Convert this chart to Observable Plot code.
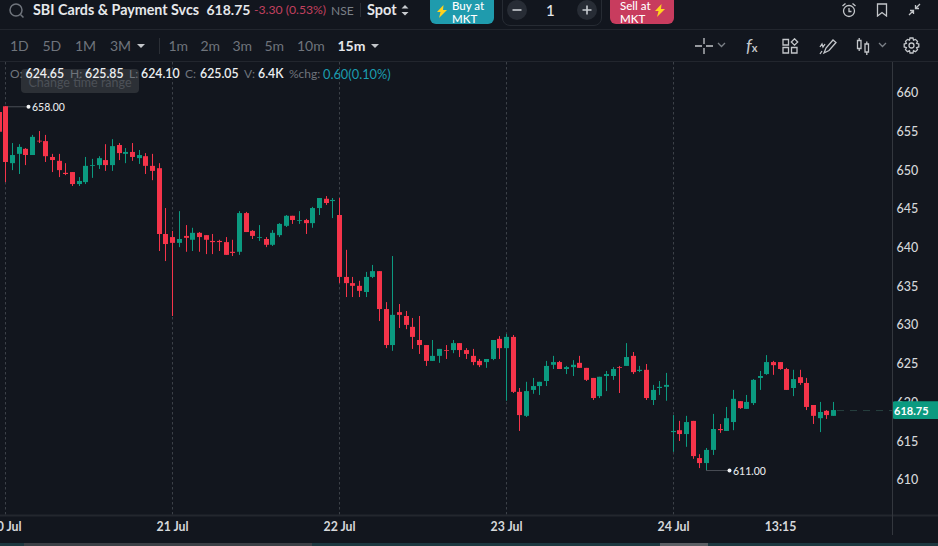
<!DOCTYPE html>
<html><head><meta charset="utf-8">
<script src="https://cdn.jsdelivr.net/npm/d3@7"></script>
<script src="https://cdn.jsdelivr.net/npm/@observablehq/plot@0.6"></script>
<style>
html,body{margin:0;padding:0;background:#12161e;width:938px;height:546px;overflow:hidden;font-family:Lato,sans-serif;color:#e6e8eb}
#page{position:relative;width:938px;height:546px;overflow:hidden}
#head{position:relative;height:62px}
.t{position:absolute;white-space:nowrap;line-height:1}
.hl{position:absolute;left:0;width:938px;height:1px;background:#22262e}
.d{color:#6f747c}
.o{top:67.500px;font-size:12px;z-index:3}
.v{top:67.500px;font-size:12.300px;z-index:3;font-weight:600;color:#eceef0}
.btn{position:absolute;top:-4px;width:64px;height:27.5px;border-radius:0 0 6px 6px;font-size:11.5px;line-height:12.5px;color:#fff;font-weight:500}
.ic{position:absolute;fill:none;stroke:#c3c6ca;stroke-width:1.3}
svg.chart{display:block;position:absolute;top:62px;left:0}
</style></head><body><div id="page">
<div id="head">
 <svg class="ic" style="left:8px;top:2px;stroke:#6f747c;stroke-width:1.5" width="18" height="18"><circle cx="8" cy="8" r="6"/><path d="M12.5 12.5l3 3"/></svg>
 <div class="t" style="left:33px;top:3px;font-size:14.3px;font-weight:700">SBI Cards &amp; Payment Svcs</div>
 <div class="t" style="left:206.500px;top:3px;font-size:14px;font-weight:700">618.75</div>
 <div class="t" style="left:254px;top:4px;font-size:12.200px;color:#c2405f">-3.30 (0.53%)</div>
 <div class="t" style="left:331px;top:4.500px;font-size:12px;color:#7b8087">NSE</div>
 <div style="position:absolute;left:360px;top:3px;width:1px;height:14px;background:#2b2f36"></div>
 <div class="t" style="left:367px;top:3px;font-size:14.5px;font-weight:700">Spot</div>
 <svg class="ic" style="left:400px;top:3px;fill:#c9ccd0;stroke:none" width="10" height="15"><path d="M1.500 5.500L5 2l3.500 3.500zM1.500 9L5 12.500 8.500 9z"/></svg>
 <div class="btn" style="left:430px;background:#1f9bad"><svg style="position:absolute;left:7px;top:9px" width="10" height="13"><path fill="#ffd21e" d="M6.500 0L0 7h3.500L2 13l8-8H6z"/></svg><span class="t" style="left:22px;top:3px;line-height:13px">Buy at<br>MKT</span></div>
 <div style="position:absolute;left:502px;top:-4px;width:98px;height:28px;border:1px solid #262b33;border-radius:0 0 8px 8px"></div>
 <svg style="position:absolute;left:507px;top:0" width="20" height="20"><circle cx="10" cy="10" r="10" fill="#272c35"/><path d="M5.500 10h9" stroke="#c8ccd1" stroke-width="1.600"/></svg>
 <svg style="position:absolute;left:577px;top:0" width="20" height="20"><circle cx="10" cy="10" r="10" fill="#272c35"/><path d="M5.500 10h9M10 5.500v9" stroke="#c8ccd1" stroke-width="1.600"/></svg>
 <div class="t" style="left:546px;top:3px;font-size:15px;font-weight:500">1</div>
 <div class="btn" style="left:610px;background:#c83c5e"><span class="t" style="left:10px;top:3px;line-height:13px">Sell at<br>MKT</span><svg style="position:absolute;left:45px;top:8px" width="11" height="13"><path fill="#ffd21e" d="M6.500 0L0 7h3.500L2 13l8-8H6z"/></svg></div>
 <svg class="ic" style="left:841px;top:2px" width="16" height="16"><circle cx="8" cy="9" r="5.500"/><path d="M8 6v3.500h2.500M1.500 4l3-2.500M14.500 4l-3-2.500"/></svg>
 <svg class="ic" style="left:876px;top:3px" width="12" height="14"><path d="M1.500 1h9v12L6 9.500 1.500 13z"/></svg>
 <svg class="ic" style="left:908px;top:3px" width="13" height="13"><path d="M1 12l4-4M2 7.500h3.500V11M12 1L8 5M11 5.500H7.500V2"/></svg>
 <div class="hl" style="top:29px"></div>
 <div class="t d" style="left:10px;top:39px;font-size:14px">1D</div>
 <div class="t d" style="left:42.500px;top:39px;font-size:14px">5D</div>
 <div class="t d" style="left:75px;top:39px;font-size:14px">1M</div>
 <div class="t d" style="left:110px;top:39px;font-size:14px">3M</div>
 <svg style="position:absolute;left:137px;top:44px" width="9" height="5"><path fill="#c3c6ca" d="M0 0h8L4 4z"/></svg>
 <div style="position:absolute;left:159px;top:38px;width:1px;height:16px;background:#2b2f36"></div>
 <div class="t d" style="left:168.500px;top:39px;font-size:14px">1m</div>
 <div class="t d" style="left:200.500px;top:39px;font-size:14px">2m</div>
 <div class="t d" style="left:232.500px;top:39px;font-size:14px">3m</div>
 <div class="t d" style="left:264.500px;top:39px;font-size:14px">5m</div>
 <div class="t d" style="left:297px;top:39px;font-size:14px">10m</div>
 <div class="t" style="left:337.500px;top:39px;font-size:14px;font-weight:700">15m</div>
 <svg style="position:absolute;left:371px;top:44px" width="9" height="5"><path fill="#c3c6ca" d="M0 0h8L4 4z"/></svg>
 <svg class="ic" style="left:695px;top:37px" width="18" height="18"><path d="M0 9h7M11 9h7M9 1v6M9 11v6"/></svg>
 <svg class="ic" style="left:717px;top:42px;stroke:#7b8087" width="9" height="6"><path d="M1 1l3.500 3.500L8 1"/></svg>
 <div class="t" style="left:746px;top:36px;font-size:18px;color:#c3c6ca;font-style:italic">f<span style="font-size:11px;font-style:normal;font-weight:700">x</span></div>
 <svg class="ic" style="left:782px;top:38px" width="17" height="16"><path d="M1 1.500h5.500V7H1zM1 9.500h5.500V15H1zM9.500 9.500H15V15H9.500zM12.500 .8l3.200 3.200-3.200 3.200L9.300 4z"/></svg>
 <svg class="ic" style="left:819px;top:38px" width="18" height="17"><path d="M5 15l2-5 7-8 3 2.500-7 8zM1 9l2-3 1 3 2-3M1 16l2-3"/></svg>
 <svg class="ic" style="left:856px;top:38px" width="14" height="17"><path d="M1.500 2.500h3.500v8H1.500zM3.200 0v2.500M3.200 10.500V13M9 6h3.500v8H9zM10.800 3.500V6M10.800 14v3"/></svg>
 <svg class="ic" style="left:878px;top:42px;stroke:#7b8087" width="9" height="6"><path d="M1 1l3.500 3.500L8 1"/></svg>
 <svg class="ic" style="left:903px;top:37px" width="17" height="17"><circle cx="8.500" cy="8.500" r="2.500"/><path d="M7 1h3l.5 2.200 2-.8 2 2-.9 2 2.200.6v3l-2.200.6.9 2-2 2-2-.9-.5 2.300H7l-.5-2.300-2 .9-2-2 .9-2L1.200 10V7l2.200-.6-.9-2 2-2 2 .8z"/></svg>
 <div class="hl" style="top:61px"></div>
</div>
<div id="chart"></div>
<div style="position:absolute;left:21px;top:69px;width:118px;height:24px;background:#2c3036;border-radius:4px;z-index:2;text-align:center;font-size:12.500px;line-height:27px;color:#4c5158">Change time range</div>
<div class="t o d" style="left:10px">O:</div><div class="t v" style="left:25.500px">624.65</div>
<div class="t o d" style="left:70px">H:</div><div class="t v" style="left:85px">625.85</div>
<div class="t o d" style="left:129px">L:</div><div class="t v" style="left:141px">624.10</div>
<div class="t o d" style="left:185px">C:</div><div class="t v" style="left:200px">625.05</div>
<div class="t o d" style="left:244px">V:</div><div class="t v" style="left:258px">6.4K</div>
<div class="t o d" style="left:289px">%chg:</div><div class="t o" style="left:323px;color:#1b9db0;font-size:12.800px">0.60(0.10%)</div>
<div style="position:absolute;left:891.500px;top:62px;width:1px;height:473px;background:#33373e"></div>
<div style="position:absolute;left:0;top:543px;width:938px;height:3px;background:#1d3840"></div>
<div style="position:absolute;left:24px;top:543px;width:288px;height:3px;background:#3c4046"></div>
<div style="position:absolute;left:660px;top:543px;width:48px;height:3px;background:#5b5f64"></div>
<script>
const highs=[657.3,658,653.25,653.1,652.6,654.3,654.8,654.3,651.85,651.85,650.65,649.5,648.85,651.45,651.2,651.55,653.1,653.75,653.25,652.6,653.25,652.35,651.95,651.85,650.65,644.85,641.9,
644.45,642.65,642.3,641.75,641.35,641.5,640.75,641.1,640.75,644.45,644.35,642,642.65,641.1,642,642.9,643.95,643.85,644.45,643.45,645,646.15,646.4,646.15,
646.15,639.45,635.95,635.45,636.6,637.5,636.7,632.7,638.65,632.45,631.55,630.65,630.9,627.15,627.8,626.65,627.15,627.8,627.4,626.75,626.65,625.35,625.35,627.8,628.3,
628.6,628.45,621.6,622.4,622.9,622.4,625.1,625.75,625.1,624.45,625.2,625.75,624.2,622.9,623.05,623.8,624.3,624.45,627.4,626.25,624.45,624.7,622,622.5,623.55,
618.1,617.35,618,617.35,613.05,613.85,618.25,616.95,619.15,621.35,619.9,620.7,622.75,623.8,625.85,625.1,624.95,624.2,623.95,623.95,622.9,619.4,619.8,618.75,619.8];
const lows=[654.7,648.2,649.75,649.25,650.4,651.7,653.25,650.8,649.5,648.85,649.1,647.7,647.7,647.95,648.75,649.9,649.65,649.65,651.05,650.65,650.95,650.55,649.25,648.45,639.3,638,630.9,
639.8,639.2,639.3,639.2,638.9,638.9,639.3,638.8,638.65,638.8,641.75,640.85,640.6,639.8,639.95,641.1,642.4,642.8,642.8,641.5,642.3,643.95,645.25,643.55,
635.15,633.35,633.35,633.35,633.35,635.8,630.25,626.75,626.4,629.35,629.2,626.65,626,624.45,625.1,624.85,625.35,626.1,625.6,625.35,624.55,624.3,624.2,625.2,625.35,
619.95,620.95,616.05,617.85,620.85,620.7,621.85,624.05,624.05,623.4,623.15,624.2,622.5,620.05,620.3,621.2,622.65,620.95,624.45,623.4,623.65,620.05,619.4,620.7,619.95,
613.35,614.75,614,612.45,611.25,611,612.95,615.8,616.05,616.15,618.9,618.9,619.4,621.35,623.3,623.3,623.95,621.35,620.55,622,618.75,616.95,615.9,617.6,618];
const opens=[657.25,658,650.65,651.85,652.5,651.7,653.55,653.5,651.45,650.95,649.4,649.5,647.95,648.2,650.3,650.4,651.05,650.4,653,651.85,652.1,651.3,651.55,650.3,650,641.5,641.1,
640.35,641.25,640.75,641.65,641.35,640.6,640.6,640.45,639.2,639.2,644.2,641.9,641,640.85,640.1,641.35,642.55,643.85,643.2,643.3,642.9,644.85,646.05,645.75,
643.95,635.95,635.15,634.8,634,635.95,636.7,631.8,627.15,631.4,630.9,629.5,627.8,627.15,625.1,625.75,626.5,626.5,627.4,626.5,625.75,625.1,624.95,625.35,627.95,
626.75,628.2,621.1,618,621.35,621.85,622.5,624.6,624.95,624.05,624.3,624.85,624.2,622.9,620.55,623.15,623.15,624.3,624.45,625.75,623.8,623.95,620.05,621.6,621.75,
615.9,616.15,615.65,617.35,612.55,611.9,613.6,616.3,616.05,617.2,619.9,618.9,619.65,622.9,623.4,624.95,624.95,624.05,621.6,623,622.25,619.4,617.7,618.65,618];
const closes=[654.7,650.8,651.7,652.75,651.7,654.05,653.45,651.55,651.05,649.75,649.25,647.95,648.35,650.3,650.4,651.3,650.4,652.85,651.95,652.1,651.45,651.7,650.3,649.65,641.5,640.2,640.35,
640.85,641,641.65,641.1,640.75,640.45,640.45,638.8,639.05,644.2,641.75,641.25,641.1,640.1,641.65,642.8,643.85,643.3,643.3,642.9,644.85,646.15,645.5,645.9,
635.95,635.15,634.8,634.15,635.95,636.7,631.8,627.15,631.05,631.05,629.75,628.2,627.15,625.1,625.75,626.65,626.4,627.4,626.5,626,624.95,624.55,625.35,627.8,626.75,
628.2,621.1,618.1,621.2,621.85,622.4,624.45,624.95,624.05,624.3,624.6,624.2,622.65,620.3,623.05,623.4,624.05,624.2,625.6,623.65,623.95,620.3,621.35,621.75,622,
616.05,615.65,617.2,612.8,611.9,613.6,616.3,616.15,617.7,620.2,619,619.8,622.65,623.15,624.95,624.55,624.05,621.35,622.75,622.25,619.15,618,618.5,618.1,618.75];
const firstIndex=-1;
const tickIndex=[0,25,50,75,100,116];
const tickLabels=["20 Jul","21 Jul","22 Jul","23 Jul","24 Jul","13:15"];
const dayStarts=[0,25,50,75,100];
const priceTicks=[610,615,620,625,630,635,640,645,650,655,660];
const lastPrice=618.75, lastIndex=124, highNote={i:0,price:658,label:"658.00"}, lowNote={i:105,price:611,label:"611.00"};
const UP="#0b9a80", DOWN="#f5344a";
const candles=highs.map((h,k)=>({i:k+firstIndex,h,l:lows[k],o:opens[k],c:closes[k]}));
const col=d=>d.c>=d.o?UP:DOWN;
const xR=132.84, noteLen=3.35;
const chart=Plot.plot({
 width:938,height:484,marginLeft:0,marginRight:46,marginTop:0,marginBottom:31,
 style:{background:"transparent",fontFamily:"Lato, sans-serif",overflow:"visible"},
 x:{domain:[-0.794,xR],round:true},
 y:{domain:[605.19,663.72],range:[453,0]},
 marks:[
  Plot.ruleX(dayStarts,{stroke:"#3c4148",strokeDasharray:"2.500,2.500",strokeWidth:1}),
  Plot.ruleY([605.19],{stroke:"#23272e",strokeWidth:2,x1:-1,x2:xR+8}),
  Plot.ruleY([highNote],{y:"price",x1:d=>d.i,x2:d=>d.i+noteLen,stroke:"#4a4e55"}),
  Plot.ruleY([lowNote],{y:"price",x1:d=>d.i,x2:d=>d.i+noteLen,stroke:"#4a4e55"}),
  Plot.ruleY([lastPrice],{x1:lastIndex+0.6,x2:xR,stroke:"#27403f",strokeDasharray:"7,6"}),
  Plot.ruleX(candles,{x:"i",y1:"l",y2:"h",stroke:col,strokeWidth:1}),
  Plot.ruleX(candles,{x:"i",y1:"o",y2:"c",stroke:col,strokeWidth:5}),
  Plot.dot([highNote,lowNote],{x:d=>d.i+noteLen,y:"price",r:2,fill:"#f2f3f4",stroke:"none"}),
  Plot.text([highNote,lowNote],{x:d=>d.i+noteLen,y:"price",text:"label",dx:3.5,dy:0.8,textAnchor:"start",fontSize:10.500,fill:"#e4e6e8",fontWeight:500}),
  Plot.axisY(priceTicks,{anchor:"right",tickSize:0,tickPadding:4,tickFormat:d=>d,label:null,fontSize:12.5,color:"#d6d8db",dy:2,fontWeight:500}),
  Plot.axisX(tickIndex,{anchor:"bottom",tickSize:0,tickPadding:7,tickFormat:d=>tickLabels[tickIndex.indexOf(d)],label:null,fontSize:12.300,color:"#d6d8db",fontWeight:700}),
  Plot.rect([lastPrice],{y1:d=>d-1.15,y2:d=>d+1.15,x1:xR,x2:xR+12,fill:UP,rx:3}),
  Plot.text([lastPrice],{x:xR,y:d=>d,text:d=>d.toFixed(2),dx:1.5,dy:1,textAnchor:"start",fontSize:11,fontWeight:700,fill:"#fff"})
 ]
});
chart.classList.add("chart");
document.getElementById("chart").append(chart);
</script>
</div></body></html>
